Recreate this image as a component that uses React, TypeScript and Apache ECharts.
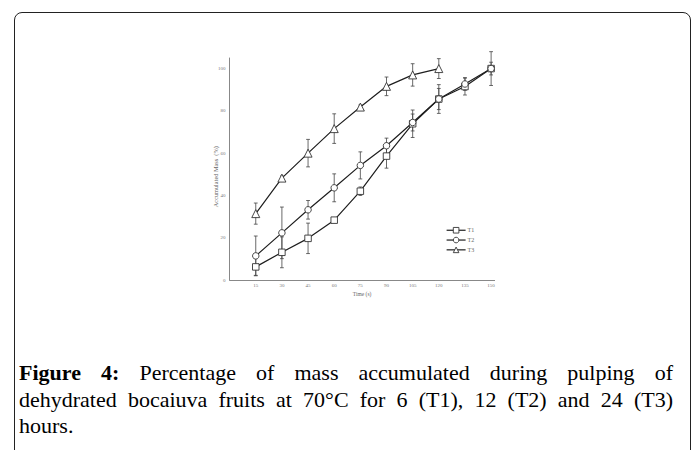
import React, { useEffect, useRef } from "react";
import * as echarts from "echarts";

const times = [15, 30, 45, 60, 75, 90, 105, 120, 135, 150];
const t1 = [6.2, 13.1, 19.7, 28.3, 42.0, 58.6, 73.9, 85.6, 91.5, 100];
const t1Err = [4, 7.3, 7.2, 1, 2, 5.7, 6.5, 6.8, 4, 8];
const t2 = [11.4, 22.3, 33.2, 43.6, 54.2, 63.5, 74.5, 85.6, 92.7, 100];
const t2Err = [9.4, 12.2, 4.4, 6.6, 6.4, 3.6, 4, 5, 3, 3];
const t3Times = [15, 30, 45, 60, 75, 90, 105, 120];
const t3 = [31.4, 48.2, 60, 71.6, 81.8, 91.6, 97, 100];
const t3Err = [5, 1, 6.5, 7, 1, 4.4, 5.3, 4.7];
const xTicks = [15, 30, 45, 60, 75, 90, 105, 120, 135, 150];
const yTicks = [0, 20, 40, 60, 80, 100];

const FONT = "'Liberation Serif', 'DejaVu Serif', serif";

function errData(xs: number[], ys: number[], es: number[]) {
  return xs.map((x, i) => [x, ys[i] - es[i], ys[i] + es[i]]);
}

const errRender = (params: any, api: any) => {
  const x = api.value(0);
  const lo = api.coord([x, api.value(1)]);
  const hi = api.coord([x, api.value(2)]);
  const hw = 1.9;
  const style = { stroke: "#444", lineWidth: 0.8 };
  return {
    type: "group",
    children: [
      { type: "line", shape: { x1: lo[0], y1: lo[1], x2: hi[0], y2: hi[1] }, style },
      { type: "line", shape: { x1: lo[0] - hw, y1: lo[1], x2: lo[0] + hw, y2: lo[1] }, style },
      { type: "line", shape: { x1: hi[0] - hw, y1: hi[1], x2: hi[0] + hw, y2: hi[1] }, style },
    ],
  };
};

function lineSeries(name: string, xs: number[], ys: number[], symbol: string, size: number) {
  return {
    name,
    type: "line",
    data: xs.map((x, i) => [x, ys[i]]),
    symbol,
    symbolSize: size,
    z: 3,
    lineStyle: { color: "#1e1e1e", width: 1.2 },
    itemStyle: { color: "#ffffff", borderColor: "#333", borderWidth: 0.9 },
    emphasis: { disabled: true },
  };
}

export default function App() {
  const ref = useRef<HTMLDivElement>(null);
  useEffect(() => {
    if (!ref.current) return;
    const chart = echarts.init(ref.current, null, { renderer: "svg" });
    chart.setOption({
      animation: false,
      grid: { left: 229.6, right: 201.4, top: 58, bottom: 170, outerBoundsMode: "none" },
      xAxis: {
        type: "value",
        min: 0,
        max: 152,
        name: "Time (s)",
        nameLocation: "middle",
        nameGap: 11,
        nameTextStyle: { fontFamily: FONT, fontSize: 5.5, color: "#666" },
        axisLine: { show: true, lineStyle: { color: "#888", width: 1 } },
        axisTick: { show: false },
        splitLine: { show: false },
        axisLabel: { customValues: xTicks, fontFamily: FONT, fontSize: 5, color: "#777", margin: 3 },
      },
      yAxis: {
        type: "value",
        min: 0,
        max: 105,
        axisLine: { show: true, lineStyle: { color: "#888", width: 1 } },
        axisTick: { show: false },
        splitLine: { show: false },
        axisLabel: { customValues: yTicks, fontFamily: FONT, fontSize: 5, color: "#777", margin: 4 },
      },
      legend: {
        orient: "vertical",
        left: 446,
        top: 227,
        padding: 0,
        itemWidth: 19,
        itemHeight: 7,
        itemGap: 3.3,
        itemStyle: { color: "#ffffff", borderColor: "#333", borderWidth: 0.9 },
        lineStyle: { color: "#1e1e1e", width: 1.2 },
        textStyle: { fontFamily: FONT, fontSize: 6, color: "#666", padding: [0, 0, 0, -3] },
        data: ["T1", "T2", "T3"],
      },
      graphic: [
        {
          type: "text",
          x: 215,
          y: 176.7,
          rotation: Math.PI / 2,
          style: {
            text: "Accumulated Mass  (%)",
            fontFamily: FONT,
            fontSize: 6.3,
            fill: "#666",
            align: "center",
            verticalAlign: "middle",
          },
        },
      ],
      series: [
        { type: "custom", name: "T1 err", renderItem: errRender, data: errData(times, t1, t1Err), z: 1, silent: true },
        { type: "custom", name: "T2 err", renderItem: errRender, data: errData(times, t2, t2Err), z: 1, silent: true },
        { type: "custom", name: "T3 err", renderItem: errRender, data: errData(t3Times, t3, t3Err), z: 1, silent: true },
        lineSeries("T1", times, t1, "rect", 6.5),
        lineSeries("T2", times, t2, "circle", 6.5),
        lineSeries("T3", t3Times, t3, "triangle", 8),
      ],
    });
    return () => chart.dispose();
  }, []);

  return (
    <div style={{ position: "absolute", left: 0, top: 0, width: 696, height: 450, overflow: "hidden", background: "#fff" }}>
      <div
        style={{
          position: "absolute",
          left: 14,
          top: 12,
          width: 677,
          height: 520,
          border: "1.3px solid #222",
          borderRadius: 8,
          boxSizing: "border-box",
        }}
      />
      <div ref={ref} style={{ position: "absolute", left: 0, top: 0, width: 696, height: 450 }} />
      <div
        style={{
          position: "absolute",
          left: 19,
          top: 360,
          width: 654,
          fontFamily: "'Liberation Serif', serif",
          fontSize: 22,
          lineHeight: "26.5px",
          color: "#000",
        }}
      >
        <div style={{ textAlign: "justify", textAlignLast: "justify" }}>
          <b>Figure 4:</b> Percentage of mass accumulated during pulping of
        </div>
        <div style={{ textAlign: "justify", textAlignLast: "justify" }}>
          dehydrated bocaiuva fruits at 70°C for 6 (T1), 12 (T2) and 24 (T3)
        </div>
        <div>hours.</div>
      </div>
    </div>
  );
}
